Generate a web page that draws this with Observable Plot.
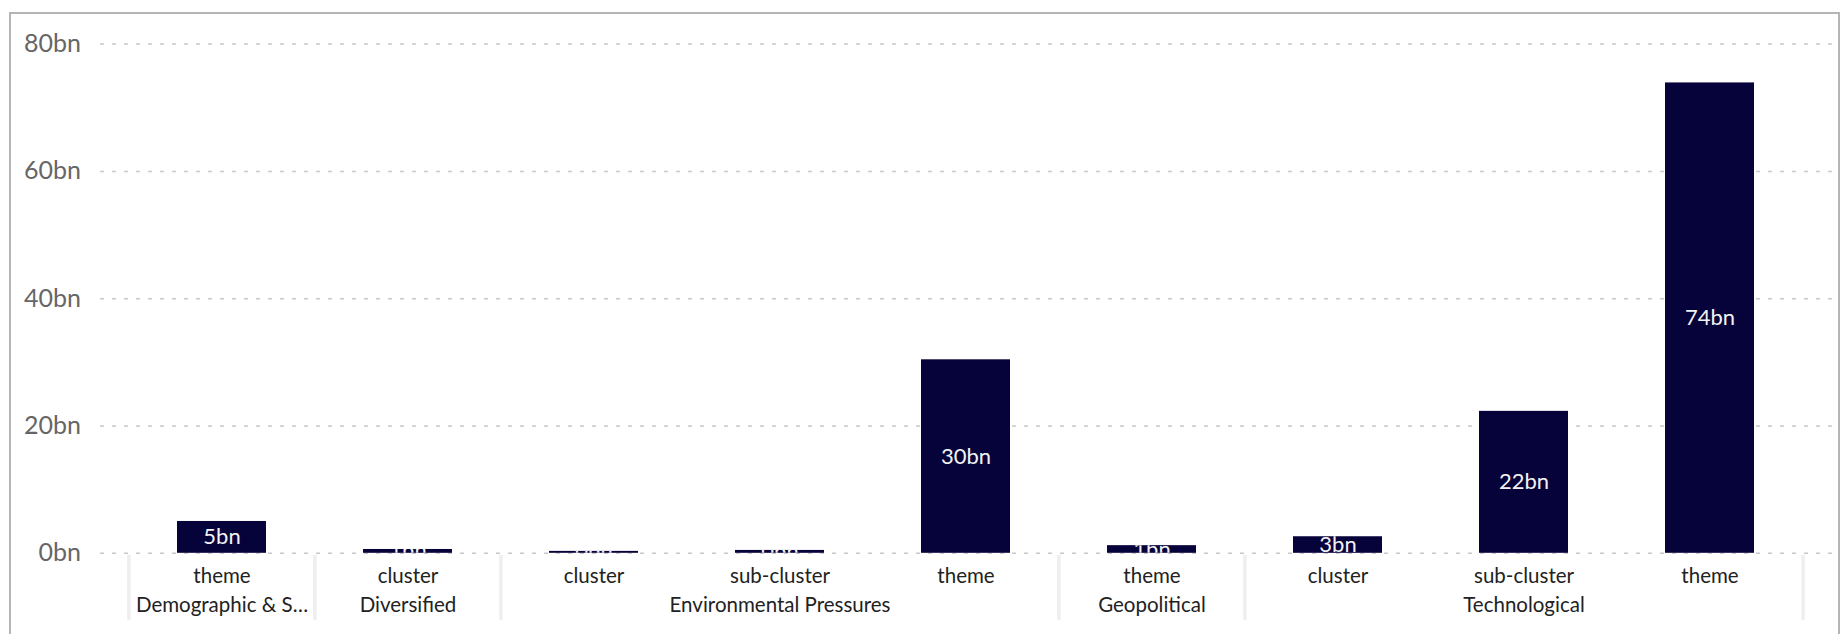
<!DOCTYPE html>
<html>
<head>
<meta charset="utf-8">
<script src="https://cdn.jsdelivr.net/npm/d3@7"></script>
<script src="https://cdn.jsdelivr.net/npm/@observablehq/plot@0.6"></script>
<style>
  html, body { margin: 0; padding: 0; background: #fff; }
  #wrap { position: relative; width: 1848px; height: 634px; overflow: hidden; }
  #frame { position: absolute; left: 9px; top: 12px; width: 1827px; height: 700px;
           border: 2px solid #b5b5b5; box-sizing: content-box; pointer-events: none; }
  #chart { position: absolute; left: 0; top: 0; }
</style>
</head>
<body>
<div id="wrap"><div id="frame"></div><div id="chart"></div></div>
<script>
// ---- data ----
const groups = ["Demographic & S…", "Diversified", "Environmental Pressures", "Environmental Pressures", "Environmental Pressures", "Geopolitical", "Technological", "Technological", "Technological"];
const levels = ["theme", "cluster", "cluster", "sub-cluster", "theme", "theme", "cluster", "sub-cluster", "theme"];
const values = [5.0, 0.6, 0.3, 0.45, 30.4, 1.2, 2.6, 22.3, 73.9];
const yTicks = [0, 20, 40, 60, 80];

// ---- build table ----
const rows = groups.map((g, i) => ({key: i + "|" + g + "|" + levels[i], group: g, level: levels[i], value: values[i]}));
const keys = rows.map(d => d.key);
const groupNames = [...new Set(groups)];
const groupMid = groupNames.map(g => {
  const members = rows.filter(d => d.group === g);
  return {group: g, key: members[Math.floor(members.length / 2)].key};
});
const groupFirst = groupNames.map(g => rows.find(d => d.group === g).key);
const lastKey = keys[keys.length - 1];

const W = 1848, H = 634;
const mL = 127.4, mR = 44.4, mT = 43.6, mB = 81.2;
const step = (W - mL - mR) / keys.length;
const frameH = H - mT - mB;

const plot = Plot.plot({
  width: W,
  height: H,
  marginLeft: mL,
  marginRight: mR,
  marginTop: mT,
  marginBottom: mB,
  style: {fontFamily: "Lato, 'Noto Sans', sans-serif", fontSize: "20px", background: "transparent", overflow: "visible"},
  x: {domain: keys, paddingInner: 0.52, paddingOuter: 0.26, axis: null},
  y: {domain: [0, 80], axis: null},
  marks: [
    Plot.gridY(yTicks, {stroke: "#c8c8c8", strokeOpacity: 1, strokeWidth: 1.5, strokeDasharray: "4,8", insetLeft: -27.4, insetRight: -29.4}),
    Plot.axisY({ticks: yTicks, label: null, tickSize: 0, tickPadding: 47, tickFormat: d => d + "bn", fontSize: 25, fill: "#666"}),
    Plot.barY(rows, {x: "key", y: "value", fill: "#06023a"}),
    Plot.text(rows, {x: "key", y: d => d.value / 2, text: d => Math.round(d.value) + "bn", fill: "#f2f2f2", fontSize: 22, ariaDescription: "bar-labels"}),
    Plot.ruleX(groupFirst, {x: d => d, dx: -step / 2, stroke: "#eeeeee", strokeWidth: 3.5, insetTop: frameH + 2, insetBottom: -67}),
    Plot.ruleX([lastKey], {x: d => d, dx: step / 2, stroke: "#eeeeee", strokeWidth: 3.5, insetTop: frameH + 2, insetBottom: -67}),
    Plot.text(rows, {x: "key", text: "level", frameAnchor: "bottom", lineAnchor: "middle", dy: 23, fill: "#222", fontSize: 20.5}),
    Plot.text(groupMid, {x: "key", text: "group", frameAnchor: "bottom", lineAnchor: "middle", dy: 52, fill: "#222", fontSize: 20.5})
  ]
});

document.getElementById("chart").appendChild(plot);

// clip each bar label to its own bar
const svgNS = "http://www.w3.org/2000/svg";
const rects = plot.querySelectorAll('g[aria-label="bar"] rect');
const texts = plot.querySelectorAll('g[aria-description="bar-labels"] text');
const defs = document.createElementNS(svgNS, "defs");
plot.insertBefore(defs, plot.firstChild);
texts.forEach((t, i) => {
  const r = rects[i];
  if (!r) return;
  const g = document.createElementNS(svgNS, "g");
  t.parentNode.insertBefore(g, t);
  g.appendChild(t);
  const m = g.getCTM().inverse().multiply(r.getCTM());
  const cp = document.createElementNS(svgNS, "clipPath");
  cp.setAttribute("id", "barclip-" + i);
  const c = r.cloneNode();
  c.setAttribute("transform", `matrix(${m.a},${m.b},${m.c},${m.d},${m.e},${m.f})`);
  cp.appendChild(c);
  defs.appendChild(cp);
  g.setAttribute("clip-path", "url(#barclip-" + i + ")");
});
</script>
</body>
</html>
